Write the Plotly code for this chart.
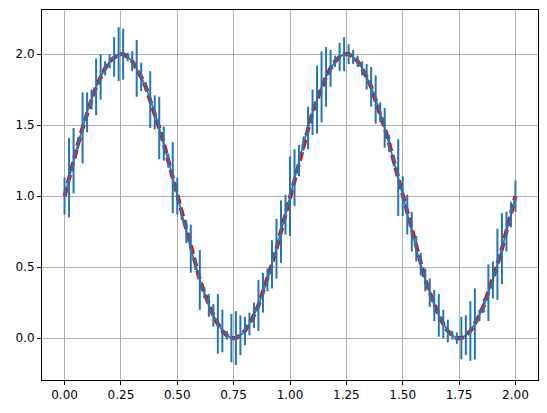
import plotly.graph_objects as go

# sample positions (t): one bar every 0.02
t = [round(0.02 * i, 2) for i in range(101)]

y_half = [1.00, 1.13, 1.25, 1.37, 1.48, 1.59, 1.68, 1.77, 1.84, 1.90,
          1.95, 1.98, 2.00, 2.00, 1.98, 1.95, 1.90, 1.84, 1.77, 1.68,
          1.59, 1.48, 1.37, 1.25, 1.13, 1.00, 0.87, 0.75, 0.63, 0.52,
          0.41, 0.32, 0.23, 0.16, 0.10, 0.05, 0.02, 0.00, 0.00, 0.02,
          0.05, 0.10, 0.16, 0.23, 0.32, 0.41, 0.52, 0.63, 0.75, 0.87]
y = y_half + y_half + [1.00]

# half-length of each error bar
yerr = [0.13, 0.28, 0.23, 0.04, 0.25, 0.14, 0.07, 0.20, 0.16, 0.05,
        0.05, 0.14, 0.19, 0.18, 0.03, 0.07, 0.20, 0.10, 0.03, 0.20,
        0.12, 0.22, 0.12, 0.05, 0.25, 0.13, 0.04, 0.08, 0.17, 0.04,
        0.21, 0.04, 0.08, 0.08, 0.21, 0.15, 0.03, 0.17, 0.19, 0.14,
        0.10, 0.08, 0.09, 0.18, 0.14, 0.08, 0.17, 0.21, 0.22, 0.14,
        0.28, 0.20, 0.11, 0.05, 0.15, 0.16, 0.24, 0.25, 0.21, 0.13,
        0.04, 0.10, 0.12, 0.07, 0.05, 0.04, 0.05, 0.09, 0.14, 0.17,
        0.07, 0.14, 0.06, 0.04, 0.27, 0.14, 0.14, 0.14, 0.09, 0.08,
        0.08, 0.10, 0.11, 0.15, 0.10, 0.08, 0.03, 0.04, 0.15, 0.14,
        0.21, 0.25, 0.04, 0.05, 0.20, 0.13, 0.25, 0.25, 0.14, 0.09,
        0.11]

# model curve (red dashed)
y_model = list(y)

x_ticks = [0, 0.25, 0.5, 0.75, 1.0, 1.25, 1.5, 1.75, 2.0]
x_labels = ["0.00", "0.25", "0.50", "0.75", "1.00", "1.25", "1.50", "1.75", "2.00"]
y_ticks = [0, 0.5, 1.0, 1.5, 2.0]
y_labels = ["0.0", "0.5", "1.0", "1.5", "2.0"]

fig = go.Figure()

fig.add_trace(go.Scatter(
    x=t, y=y_model, mode="lines",
    line=dict(color="#ff0000", width=4.2, dash="9px,4px"),
    hoverinfo="skip"
))

fig.add_trace(go.Scatter(
    x=t, y=y, mode="lines",
    line=dict(color="#1f77b4", width=1.7),
    error_y=dict(type="data", array=yerr, visible=True,
                 color="#1f77b4", thickness=2, width=0)
))

axis_style = dict(
    showgrid=True, gridcolor="#b0b0b0", gridwidth=1,
    zeroline=False, automargin=False,
    showline=True, linecolor="black", linewidth=1, mirror=True,
    ticks="outside", ticklen=4, tickwidth=1, tickcolor="black",
    tickfont=dict(family="DejaVu Sans", size=12, color="black"),
)

fig.update_xaxes(range=[-0.1, 2.1], tickvals=x_ticks, ticktext=x_labels, **axis_style)
fig.update_yaxes(range=[-0.295, 2.311], tickvals=y_ticks, ticktext=y_labels, **axis_style)

fig.update_layout(
    width=547, height=413,
    margin=dict(l=42, r=9, t=10, b=33),
    plot_bgcolor="white", paper_bgcolor="white",
    showlegend=False,
)

# drop the browser's default body margin so the figure sits at the top-left
fig.write_html("out.html", config={"displayModeBar": False},
               post_script="document.body.style.margin='0';")
